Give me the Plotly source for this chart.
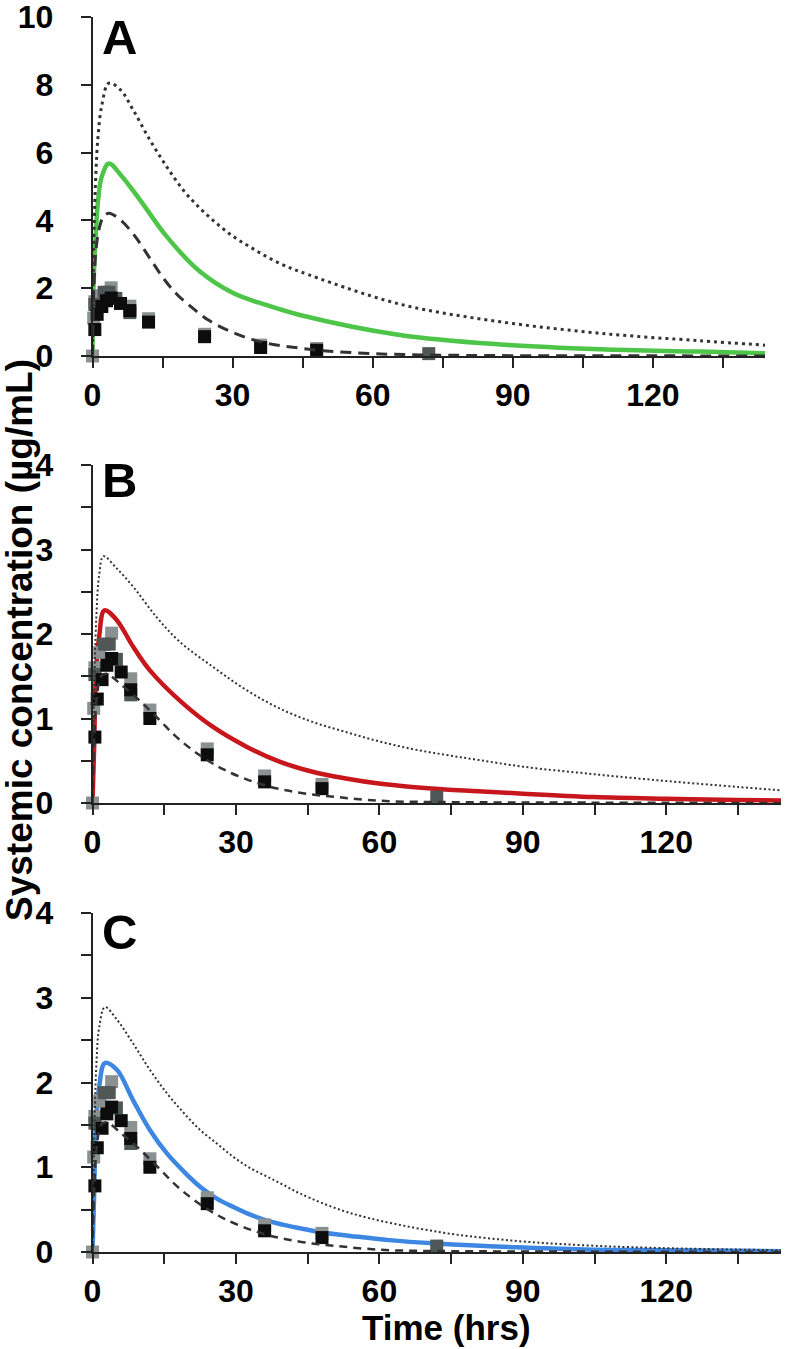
import plotly.graph_objects as go

# ---------------- data ----------------
# observed concentrations (same data in all panels)
obs_light_t = [0, 0.25, 0.5, 1.5, 4, 8, 12, 24, 36, 48]
obs_light_v = [0, 1.12, 1.6, 1.78, 2.01, 1.47, 1.1, 0.64, 0.32, 0.22]
obs_dark_t = [0.5, 2.5, 3.5, 5, 8, 72]
obs_dark_v = [1.52, 1.88, 1.88, 1.7, 1.28, 0.07]
obs_black_t = [0.5, 1, 2, 3, 4, 6, 8, 12, 24, 36, 48]
obs_black_v = [0.78, 1.23, 1.46, 1.63, 1.71, 1.55, 1.34, 1.0, 0.57, 0.25, 0.17]

# panel A
a_dot_t = [0, 0.3, 0.7, 1.2, 2, 3.5, 6, 8.7, 12.3, 15.9, 19.4, 23, 26.6, 30.2, 33.7, 37.3, 40.9, 44.4, 65.8, 87.3, 108.7, 130, 144]
a_dot_v = [0, 3.5, 5.3, 6.5, 7.4, 8.05, 7.85, 7.26, 6.37, 5.58, 4.9, 4.36, 3.91, 3.52, 3.22, 2.93, 2.68, 2.49, 1.53, 1.01, 0.67, 0.45, 0.32]
a_green_t = [0, 0.2, 0.7, 1.2, 2, 3.5, 6, 10.2, 15.9, 23, 30.2, 37.3, 44.4, 65.8, 87.3, 108.7, 130, 144]
a_green_v = [0, 2.0, 3.6, 4.6, 5.3, 5.68, 5.35, 4.6, 3.52, 2.49, 1.85, 1.5, 1.21, 0.62, 0.34, 0.2, 0.13, 0.08]
a_dash_t = [0, 0.3, 0.8, 1.5, 2.3, 3.5, 6, 8.9, 12.3, 15.2, 18, 21.2, 24.8, 29.1, 34.1, 38.7, 43.4, 50, 60, 72, 90, 120, 144]
a_dash_v = [0, 2.0, 3.2, 3.8, 4.1, 4.21, 4.01, 3.57, 2.88, 2.29, 1.83, 1.44, 1.06, 0.75, 0.49, 0.34, 0.25, 0.15, 0.07, 0.03, 0.01, 0.005, 0]

# panel B
b_red_t = [0, 0.35, 0.7, 1.4, 2.5, 5, 8.5, 12, 18.5, 25.2, 32.1, 39.1, 46, 53, 59.9, 66.8, 73.8, 80.7, 90, 105, 120, 135, 144]
b_red_v = [0, 0.67, 1.5, 1.97, 2.28, 2.17, 1.85, 1.57, 1.2, 0.9, 0.67, 0.49, 0.37, 0.29, 0.23, 0.19, 0.16, 0.14, 0.11, 0.07, 0.05, 0.035, 0.03]
b_dot_t = [0, 0.3, 0.8, 1.4, 2.3, 5, 8.5, 13.4, 18.2, 25.2, 32.1, 39.1, 46, 53, 59.9, 66.8, 73.8, 80.7, 90, 105, 120, 135, 144]
b_dot_v = [0, 1.2, 2.2, 2.7, 2.92, 2.78, 2.56, 2.2, 1.91, 1.61, 1.34, 1.12, 0.96, 0.84, 0.73, 0.64, 0.57, 0.51, 0.43, 0.34, 0.26, 0.19, 0.15]

# dashed curve shared by panels B and C
bc_dash_t = [0, 0.4, 1, 1.8, 2.9, 6.4, 9.9, 13.7, 17.2, 20.6, 24.2, 27.3, 31.3, 36, 40.5, 46, 51.2, 56.8, 62.7, 75, 100, 144]
bc_dash_v = [0, 0.8, 1.3, 1.5, 1.53, 1.38, 1.21, 1.0, 0.8, 0.64, 0.5, 0.4, 0.3, 0.21, 0.15, 0.1, 0.07, 0.04, 0.02, 0.01, 0.005, 0]

# panel C
c_blue_t = [0, 0.35, 0.7, 1.4, 2.6, 5.1, 8.5, 12, 15.6, 19.1, 22.5, 26, 29.5, 33, 36.5, 40, 43.4, 48, 53.9, 62, 72, 88.7, 102.7, 120, 144]
c_blue_v = [0, 0.7, 1.5, 1.95, 2.23, 2.15, 1.79, 1.44, 1.16, 0.95, 0.77, 0.63, 0.53, 0.44, 0.37, 0.32, 0.28, 0.23, 0.19, 0.14, 0.1, 0.055, 0.03, 0.02, 0.01]
c_dot_t = [0, 0.3, 0.8, 1.4, 2.6, 5, 8.5, 12, 15.6, 19.1, 22.5, 26, 29.5, 33, 36.5, 40, 43.4, 53.9, 72, 88.7, 102.7, 116.7, 144]
c_dot_v = [0, 1.2, 2.2, 2.65, 2.89, 2.75, 2.46, 2.15, 1.87, 1.64, 1.44, 1.28, 1.12, 0.99, 0.89, 0.79, 0.69, 0.46, 0.24, 0.13, 0.08, 0.05, 0.02]

panel_letters = ["A", "B", "C"]
x_ticks = [0, 30, 60, 90, 120]

# ---------------- styles ----------------
W, H = 787, 1349
FONT = "Liberation Sans, Arial, Helvetica, sans-serif"
GREY_DARK = "#333333"
GREEN = "#4cc548"
RED = "#c8161d"
BLUE = "#3d87e2"
SQ_LIGHT = "#8b9191"
SQ_DARK = "#4f5757"
SQ_BLACK = "#0c0c0c"
AX = "#222222"


def px_x(p):
    return p / W


def px_y(p):
    return 1 - p / H


panels = [
    dict(x0=92.5, x1=765, top=17, bot=356, ymax=10, dtick=2, minor=None),
    dict(x0=92.5, x1=781, top=465, bot=803, ymax=4, dtick=1, minor=0.5),
    dict(x0=92.5, x1=781, top=913, bot=1252, ymax=4, dtick=1, minor=0.5),
]

fig = go.Figure()

curves = [
    (a_green_t, a_green_v, GREEN, a_dash_t, a_dash_v, 3, "11px,7px", a_dot_t, a_dot_v, 3, "3px,4px"),
    (b_red_t, b_red_v, RED, bc_dash_t, bc_dash_v, 2.5, "8px,6px", b_dot_t, b_dot_v, 2, "2px,2.5px"),
    (c_blue_t, c_blue_v, BLUE, bc_dash_t, bc_dash_v, 2.5, "8px,6px", c_dot_t, c_dot_v, 2, "2px,2.5px"),
]

for i, c in enumerate(curves):
    xa = "x" if i == 0 else f"x{i+1}"
    ya = "y" if i == 0 else f"y{i+1}"
    (ct, cv, col, dt, dv, dw, dd, ot, ov, ow, od) = c
    fig.add_trace(go.Scatter(x=ct, y=cv, mode="lines", xaxis=xa, yaxis=ya,
                             line=dict(color=col, width=4.5, shape="spline", smoothing=1.0),
                             showlegend=False, hoverinfo="skip"))
    for tt, vv, colr in [(obs_light_t, obs_light_v, SQ_LIGHT),
                         (obs_dark_t, obs_dark_v, SQ_DARK),
                         (obs_black_t, obs_black_v, SQ_BLACK)]:
        fig.add_trace(go.Scatter(x=tt, y=vv, mode="markers", xaxis=xa, yaxis=ya,
                                 marker=dict(symbol="square", size=13, color=colr,
                                             line=dict(width=0)),
                                 cliponaxis=False, showlegend=False))
    fig.add_trace(go.Scatter(x=dt, y=dv, mode="lines", xaxis=xa, yaxis=ya,
                             line=dict(color=GREY_DARK, width=dw, dash=dd, shape="spline", smoothing=1.0),
                             showlegend=False, hoverinfo="skip"))
    fig.add_trace(go.Scatter(x=ot, y=ov, mode="lines", xaxis=xa, yaxis=ya,
                             line=dict(color=GREY_DARK, width=ow, dash=od, shape="spline", smoothing=1.0),
                             showlegend=False, hoverinfo="skip"))

tickfont = dict(family=FONT, size=32, color="black", weight="bold")
minor_common = dict(ticks="outside", ticklen=10, tickwidth=1.5, tickcolor=AX, showgrid=False)
layout = {}
for i, p in enumerate(panels):
    xk = "xaxis" if i == 0 else f"xaxis{i+1}"
    yk = "yaxis" if i == 0 else f"yaxis{i+1}"
    ya = "y" if i == 0 else f"y{i+1}"
    xa = "x" if i == 0 else f"x{i+1}"
    layout[xk] = dict(domain=[px_x(p["x0"]), px_x(p["x1"])], anchor=ya, range=[0, 144],
                      tickvals=x_ticks, ticks="outside", ticklen=10, tickwidth=1.5,
                      tickcolor=AX, showline=True, linecolor=AX, linewidth=1.5,
                      showgrid=False, zeroline=False, tickfont=tickfont,
                      ticklabelstandoff=0, automargin=False, ticklabeloverflow="allow",
                      minor=dict(dtick=15, tick0=0, **minor_common))
    ydict = dict(domain=[px_y(p["bot"]), px_y(p["top"])], anchor=xa, range=[0, p["ymax"]],
                 dtick=p["dtick"], tick0=0, ticks="outside", ticklen=10, tickwidth=1.5,
                 tickcolor=AX, showline=True, linecolor=AX, linewidth=1.5,
                 showgrid=False, zeroline=False, tickfont=tickfont, ticklabelstandoff=21,
                 automargin=False, ticklabeloverflow="allow")
    if p["minor"]:
        ydict["minor"] = dict(dtick=p["minor"], tick0=0, **minor_common)
    layout[yk] = ydict

annotations = []
letter_y = [37.5, 480, 932]
for L, yc in zip(panel_letters, letter_y):
    annotations.append(dict(text=f"<b>{L}</b>", x=px_x(100), y=px_y(yc), xref="paper", yref="paper",
                            xanchor="left", yanchor="middle", showarrow=False,
                            font=dict(family=FONT, size=49, color="black")))
annotations.append(dict(text="<b>Systemic concentration (µg/mL)</b>", x=px_x(19), y=px_y(640),
                        xref="paper", yref="paper", xanchor="center", yanchor="middle",
                        textangle=-90, showarrow=False,
                        font=dict(family=FONT, size=37, color="black")))
annotations.append(dict(text="<b>Time (hrs)</b>", x=px_x(446), y=px_y(1327),
                        xref="paper", yref="paper", xanchor="center", yanchor="middle",
                        showarrow=False, font=dict(family=FONT, size=35, color="black")))

fig.update_layout(width=W, height=H, margin=dict(l=0, r=0, t=0, b=0),
                  paper_bgcolor="white", plot_bgcolor="white",
                  annotations=annotations, **layout)

fig.write_html("out.html", config={"displayModeBar": False},
               post_script="document.body.style.margin='0';document.body.style.padding='0';")
